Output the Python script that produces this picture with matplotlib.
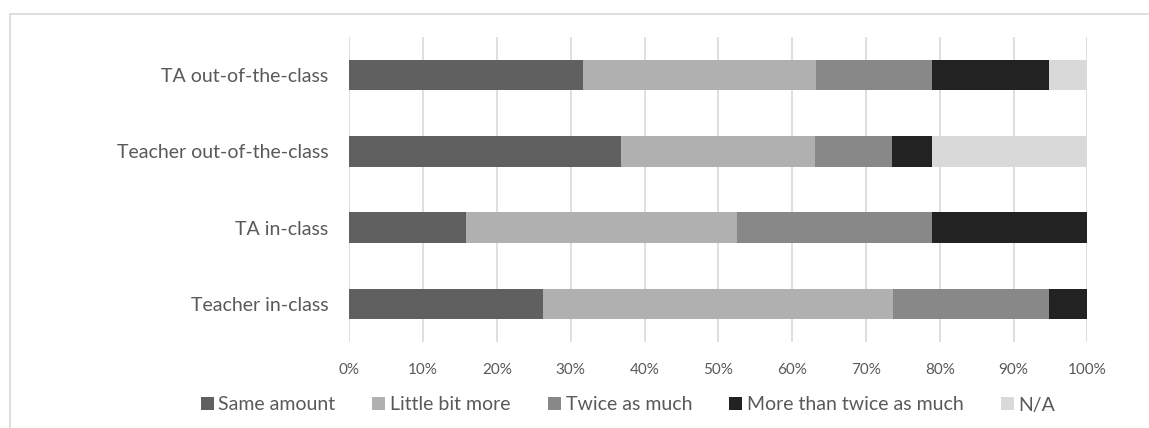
import matplotlib
matplotlib.use("Agg")
import matplotlib.pyplot as plt
from matplotlib.patches import Rectangle, Patch
import numpy as np

categories = ["Teacher in-class", "TA in-class", "Teacher out-of-the-class", "TA out-of-the-class"]
series_names = ["Same amount", "Little bit more", "Twice as much", "More than twice as much", "N/A"]
same_amount = [26.3, 15.8, 36.8, 31.6]
little_bit_more = [47.4, 36.8, 26.3, 31.6]
twice_as_much = [21.1, 26.3, 10.5, 15.8]
more_than_twice = [5.3, 21.1, 5.3, 15.8]
na = [0.0, 0.0, 21.1, 5.3]
xtick_labels = ["0%", "10%", "20%", "30%", "40%", "50%", "60%", "70%", "80%", "90%", "100%"]

colors = ["#606060", "#b0b0b0", "#888888", "#222222", "#d9d9d9"]
text_color = "#595959"

plt.rcParams['font.family'] = ['Lato', 'DejaVu Sans']

W, H = 1149, 428
fig = plt.figure(figsize=(W / 100, H / 100), dpi=100)
ax = fig.add_axes([349.3 / W, 1 - 342 / H, (1087.3 - 349.3) / W, (342 - 37) / H])

data = [same_amount, little_bit_more, twice_as_much, more_than_twice, na]
y = np.arange(len(categories))
left = np.zeros(len(categories))
for vals, c, name in zip(data, colors, series_names):
    v = np.array(vals)
    ax.barh(y, v, left=left, height=0.4, color=c, label=name, zorder=3)
    left += v

ax.set_xlim(0, 100)
ax.set_ylim(-0.5, 3.5)
ax.set_xticks(np.arange(0, 101, 10))
ax.set_xticklabels(xtick_labels, fontsize=11, color=text_color)
ax.set_yticks(y)
ax.set_yticklabels(categories, fontsize=14, color=text_color)
ax.tick_params(axis='both', length=0)
ax.tick_params(axis='x', pad=15)
ax.tick_params(axis='y', pad=15)
ax.grid(axis='x', color="#d9d9d9", linewidth=1.2, zorder=0)
for s in ax.spines.values():
    s.set_visible(False)

handles = [Patch(facecolor=c, edgecolor='none') for c in colors]
fig.legend(handles, series_names, loc='center', bbox_to_anchor=(628 / W, 1 - 405 / H),
           ncol=5, frameon=False, fontsize=14, labelcolor=text_color,
           handlelength=0.67, handleheight=0.67, handletextpad=0.25, columnspacing=1.9)

fig.patches.append(Rectangle((10 / W, -0.1), 1.2, 1 - 14 / H + 0.1, transform=fig.transFigure,
                             fill=False, edgecolor="#d9d9d9", linewidth=1.2))

fig.savefig("out.png", dpi=100)
